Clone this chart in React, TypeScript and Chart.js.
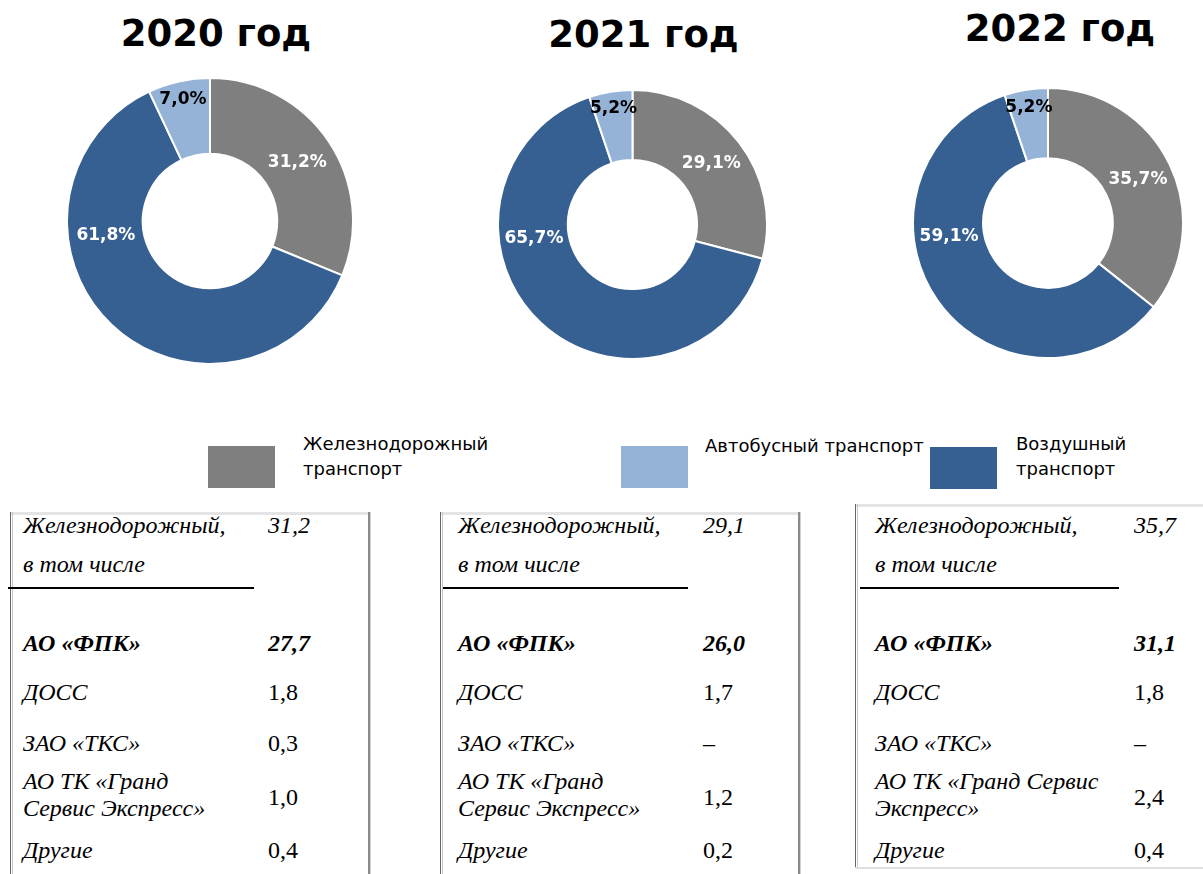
import React, { useEffect, useRef } from 'react';
import { Chart, registerables } from 'chart.js';

Chart.register(...registerables);

// ---------- data ----------
const categories = ['Железнодорожный транспорт', 'Воздушный транспорт', 'Автобусный транспорт'];
const years = ['2020 год', '2021 год', '2022 год'];
const railShare = [31.2, 29.1, 35.7];
const airShare = [61.8, 65.7, 59.1];
const busShare = [7.0, 5.2, 5.2];

const fpkValues = [27.7, 26.0, 31.1];
const dossValues = [1.8, 1.7, 1.8];
const tksValues: (number | null)[] = [0.3, null, null];
const grandValues = [1.0, 1.2, 2.4];
const otherValues = [0.4, 0.2, 0.4];

const railRowLabel = ['Железнодорожный,', 'в том числе'];
const fpkLabel = 'АО «ФПК»';
const dossLabel = 'ДОСС';
const tksLabel = 'ЗАО «ТКС»';
const grandLabelNarrow = ['АО ТК «Гранд', 'Сервис Экспресс»'];
const grandLabelWide = ['АО ТК «Гранд Сервис', 'Экспресс»'];
const otherLabel = 'Другие';

// ---------- styles ----------
const sliceColors = ['#7f7f7f', '#366092', '#95b3d7'];
const labelColors = ['#ffffff', '#ffffff', '#000000'];
const legendOrder = [0, 2, 1];

const fmt = (v: number | null) => (v === null ? '–' : v.toFixed(1).replace('.', ','));

const donutLayout = [
  { cx: 210, cy: 220.5, r: 143, cutout: '47%', titleX: 216, titleBase: 47 },
  { cx: 632.5, cy: 224.5, r: 134.5, cutout: '48%', titleX: 643.5, titleBase: 48 },
  { cx: 1048, cy: 223, r: 135, cutout: '48%', titleX: 1060, titleBase: 42 },
];

const sliceLabelPlugin = {
  id: 'sliceLabels',
  afterDatasetsDraw(chart: any) {
    const ctx = chart.ctx as CanvasRenderingContext2D;
    const meta = chart.getDatasetMeta(0);
    const data = chart.data.datasets[0].data as number[];
    const total = data.reduce((a, b) => a + b, 0);
    ctx.save();
    ctx.font = 'bold 17px "DejaVu Sans"';
    ctx.textAlign = 'center';
    ctx.textBaseline = 'middle';
    meta.data.forEach((arc: any, i: number) => {
      const p = arc.getProps(['x', 'y', 'startAngle', 'endAngle', 'innerRadius', 'outerRadius'], true);
      const share = data[i] / total;
      let angle = (p.startAngle + p.endAngle) / 2;
      let rad = (p.innerRadius + p.outerRadius) / 2;
      if (share > 0.5) angle = (172 * Math.PI) / 180;
      if (share < 0.1) rad = p.innerRadius + 0.75 * (p.outerRadius - p.innerRadius);
      const x = p.x + Math.cos(angle) * rad;
      const y = p.y + Math.sin(angle) * rad;
      ctx.fillStyle = labelColors[i];
      ctx.fillText(fmt(data[i]) + '%', x, y);
    });
    ctx.restore();
  },
};

const BW = 2;

function Table({ idx, left, right, top, bottom, textX, valueX, lineFrom, lineTo, wide }: any) {
  const serif = '"Liberation Serif", "Times New Roman", serif';
  const fs = 24;
  const asc = 0.8375 * fs;
  const txt = (s: string, x: number, base: number, extra: any = {}) => (
    <div
      style={{
        position: 'absolute',
        left: x,
        top: base - asc,
        fontFamily: serif,
        fontSize: fs,
        lineHeight: fs + 'px',
        fontStyle: 'italic',
        whiteSpace: 'nowrap',
        color: '#000',
        ...extra,
      }}
    >
      {s}
    </div>
  );
  const grand = wide ? grandLabelWide : grandLabelNarrow;
  return (
    <>
      <div style={{ position: 'absolute', left, top, width: right - left, height: 0, borderTop: '3px solid #e4e4e4' }} />
      <div style={{ position: 'absolute', left, top, width: 0, height: bottom - top, borderLeft: '1px solid #666', boxShadow: '2px 0 0 #c8c8c8' }} />
      {right < 1203 && (
        <div style={{ position: 'absolute', left: right, top, width: 0, height: bottom - top, borderLeft: '2px solid #8a8a8a', boxShadow: '1px 0 0 #d0d0d0' }} />
      )}
      {bottom < 874 && (
        <div style={{ position: 'absolute', left, top: bottom, width: 1203 - left, height: 0, borderTop: '2px solid #e0e0e0' }} />
      )}
      <div style={{ position: 'absolute', left: lineFrom, top: 587, width: lineTo - lineFrom, height: 2, background: '#000' }} />
      {txt(railRowLabel[0], textX, 533)}
      {txt(railRowLabel[1], textX, 572)}
      {txt(fmt(railShare[idx]), valueX, 533)}
      {txt(fpkLabel, textX, 651, { fontWeight: 'bold' })}
      {txt(fmt(fpkValues[idx]), valueX, 651, { fontWeight: 'bold' })}
      {txt(dossLabel, textX, 700)}
      {txt(fmt(dossValues[idx]), valueX, 700, { fontStyle: 'normal' })}
      {txt(tksLabel, textX, 751)}
      {txt(fmt(tksValues[idx]), valueX, 751, { fontStyle: 'normal' })}
      {txt(grand[0], textX, 789)}
      {txt(grand[1], textX, 816)}
      {txt(fmt(grandValues[idx]), valueX, 805, { fontStyle: 'normal' })}
      {txt(otherLabel, textX, 858)}
      {txt(fmt(otherValues[idx]), valueX, 858, { fontStyle: 'normal' })}
    </>
  );
}

export default function App() {
  const refs = [useRef<HTMLCanvasElement>(null), useRef<HTMLCanvasElement>(null), useRef<HTMLCanvasElement>(null)];

  useEffect(() => {
    const charts = donutLayout.map((d, i) => {
      const canvas = refs[i].current!;
      return new Chart(canvas, {
        type: 'doughnut',
        data: {
          labels: categories,
          datasets: [
            {
              data: [railShare[i], airShare[i], busShare[i]],
              backgroundColor: sliceColors,
              borderColor: '#ffffff',
              borderWidth: BW,
            },
          ],
        },
        options: {
          responsive: false,
          animation: false,
          cutout: d.cutout,
          layout: { padding: 0 },
          plugins: { legend: { display: false }, tooltip: { enabled: false }, title: { display: false } },
        },
        plugins: [sliceLabelPlugin],
      });
    });
    return () => charts.forEach((c) => c.destroy());
  }, []);

  const legendItems = [
    { box: [208, 446, 67, 42], text: ['Железнодорожный', 'транспорт'], tx: 303, ty: 431 },
    { box: [621, 446, 67, 42], text: ['Автобусный транспорт'], tx: 705, ty: 433 },
    { box: [930, 447, 67, 42], text: ['Воздушный', 'транспорт'], tx: 1016, ty: 431 },
  ];

  return (
    <div style={{ position: 'fixed', left: 0, top: 0, width: 1203, height: 874, background: '#fff', overflow: 'hidden' }}>
      {donutLayout.map((d, i) => {
        const size = Math.round(2 * d.r + BW);
        return (
          <React.Fragment key={i}>
            <div
              style={{
                position: 'absolute',
                left: d.titleX - 150,
                width: 300,
                textAlign: 'center',
                top: d.titleBase - 33,
                fontFamily: '"DejaVu Sans", Verdana, sans-serif',
                fontWeight: 'bold',
                fontSize: 37,
                lineHeight: '40px',
                color: '#000',
              }}
            >
              {years[i]}
            </div>
            <canvas
              ref={refs[i]}
              width={size}
              height={size}
              style={{ position: 'absolute', left: d.cx - size / 2, top: d.cy - size / 2, width: size, height: size }}
            />
          </React.Fragment>
        );
      })}

      {legendItems.map((it, k) => (
        <React.Fragment key={k}>
          <div
            style={{
              position: 'absolute',
              left: it.box[0],
              top: it.box[1],
              width: it.box[2],
              height: it.box[3],
              background: sliceColors[legendOrder[k]],
            }}
          />
          <div
            style={{
              position: 'absolute',
              left: it.tx,
              top: it.ty,
              fontFamily: '"DejaVu Sans", Verdana, sans-serif',
              fontSize: 18,
              lineHeight: '25px',
              color: '#000',
              whiteSpace: 'nowrap',
            }}
          >
            {it.text.map((t, j) => (
              <div key={j}>{t}</div>
            ))}
          </div>
        </React.Fragment>
      ))}

      <Table idx={0} left={10} right={368} top={512} bottom={900} textX={23} valueX={268} lineFrom={8} lineTo={254} wide={false} />
      <Table idx={1} left={440} right={798} top={512} bottom={900} textX={458} valueX={703} lineFrom={443} lineTo={688} wide={false} />
      <Table idx={2} left={855} right={1210} top={504} bottom={867} textX={875} valueX={1134} lineFrom={860} lineTo={1119} wide={true} />
    </div>
  );
}
